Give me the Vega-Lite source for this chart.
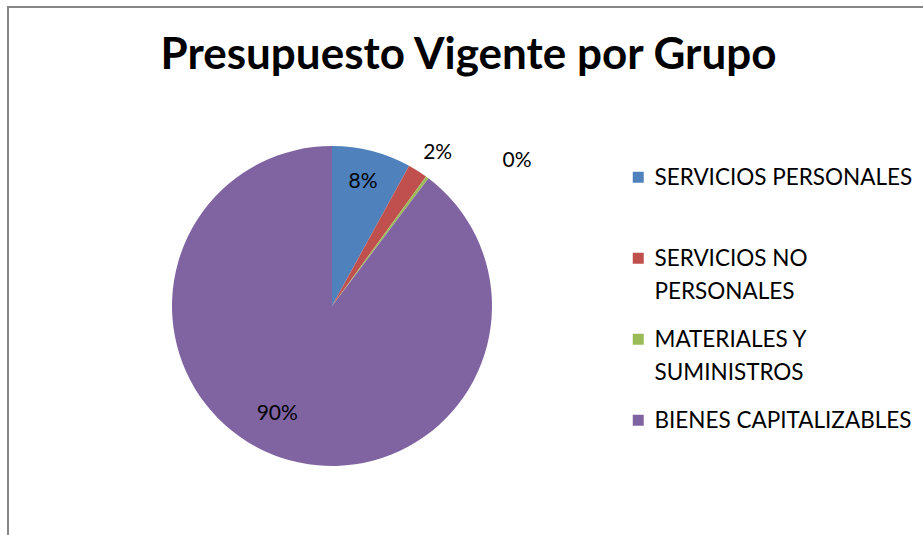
{
  "$schema": "https://vega.github.io/schema/vega-lite/v6.json",
  "autosize": {"type": "pad"},
  "padding": {"left": 7, "top": 6, "right": 0, "bottom": -70},
  "background": "white",
  "spacing": 0,
  "bounds": "flush",
  "title": {
    "text": "Presupuesto Vigente por Grupo",
    "font": "Lato",
    "fontSize": 44,
    "fontWeight": "bold",
    "color": "black",
    "anchor": "middle",
    "frame": "bounds",
    "baseline": "alphabetic",
    "offset": 0,
    "dx": 3,
    "dy": 107
  },
  "config": {
    "style": {"guide-label": {"lineHeight": 33}}
  },
  "data": {
    "values": [
      {"grupo": "SERVICIOS PERSONALES", "valor": 8.0, "orden": 1, "etiqueta": "8%"},
      {"grupo": "SERVICIOS NO PERSONALES", "valor": 2.0, "orden": 2, "etiqueta": "2%"},
      {"grupo": "MATERIALES Y SUMINISTROS", "valor": 0.3, "orden": 3, "etiqueta": "0%"},
      {"grupo": "BIENES CAPITALIZABLES", "valor": 89.7, "orden": 4, "etiqueta": "90%"}
    ]
  },
  "hconcat": [
    {
      "width": 648,
      "height": 598,
      "view": {"stroke": "#868686", "strokeWidth": 2, "strokeDash": [648, 1246, 598]},
      "layer": [
        {
          "mark": {"type": "arc", "outerRadius": 160, "strokeWidth": 0},
          "encoding": {
            "theta": {"field": "valor", "type": "quantitative", "stack": true, "scale": {"domain": [0, 100]}},
            "order": {"field": "orden", "type": "quantitative"},
            "color": {
              "field": "grupo",
              "type": "nominal",
              "scale": {
                "domain": ["SERVICIOS PERSONALES", "SERVICIOS NO PERSONALES", "MATERIALES Y SUMINISTROS", "BIENES CAPITALIZABLES"],
                "range": ["#4F81BD", "#C0504D", "#9BBB59", "#8064A2"]
              },
              "legend": {
                "title": null,
                "orient": "none",
                "legendX": 619,
                "legendY": 159,
                "symbolType": "square",
                "symbolSize": 121,
                "symbolStrokeWidth": 0,
                "labelFont": "Lato",
                "labelFontSize": 22.5,
                "labelColor": "black",
                "labelLimit": 400,
                "labelOffset": 5,
                "labelBaseline": "alphabetic",
                "rowPadding": 24,
                "gridAlign": "all",
                "labelExpr": "datum.label == 'SERVICIOS NO PERSONALES' ? ['SERVICIOS NO', 'PERSONALES'] : datum.label == 'MATERIALES Y SUMINISTROS' ? ['MATERIALES Y', 'SUMINISTROS'] : datum.label",
                "encode": {"labels": {"update": {"dy": {"value": 7.5}}}}
              }
            }
          }
        },
        {
          "mark": {"type": "text", "radius": 125, "dy": -3, "font": "Lato", "fontSize": 21, "color": "black"},
          "encoding": {
            "theta": {"field": "valor", "type": "quantitative", "stack": true},
            "order": {"field": "orden", "type": "quantitative"},
            "text": {"condition": {"test": "datum.orden == 1", "field": "etiqueta"}, "value": ""}
          }
        },
        {
          "mark": {"type": "text", "radius": 125, "dx": -15, "dy": -11, "font": "Lato", "fontSize": 21, "color": "black"},
          "encoding": {
            "theta": {"field": "valor", "type": "quantitative", "stack": true},
            "order": {"field": "orden", "type": "quantitative"},
            "text": {"condition": {"test": "datum.orden == 4", "field": "etiqueta"}, "value": ""}
          }
        },
        {
          "mark": {"type": "text", "radius": 186, "dx": 6, "dy": 4, "font": "Lato", "fontSize": 21, "color": "black"},
          "encoding": {
            "theta": {"field": "valor", "type": "quantitative", "stack": true},
            "order": {"field": "orden", "type": "quantitative"},
            "text": {"condition": {"test": "datum.orden == 2", "field": "etiqueta"}, "value": ""}
          }
        },
        {
          "mark": {"type": "text", "radius": 200, "dx": 66, "dy": 16, "font": "Lato", "fontSize": 21, "color": "black"},
          "encoding": {
            "theta": {"field": "valor", "type": "quantitative", "stack": true},
            "order": {"field": "orden", "type": "quantitative"},
            "text": {"condition": {"test": "datum.orden == 3", "field": "etiqueta"}, "value": ""}
          }
        }
      ]
    },
    {
      "width": 267,
      "height": 598,
      "view": {"stroke": "#868686", "strokeWidth": 2, "strokeDash": [267, 3000]},
      "mark": {"type": "text", "text": ""},
      "encoding": {}
    }
  ]
}
